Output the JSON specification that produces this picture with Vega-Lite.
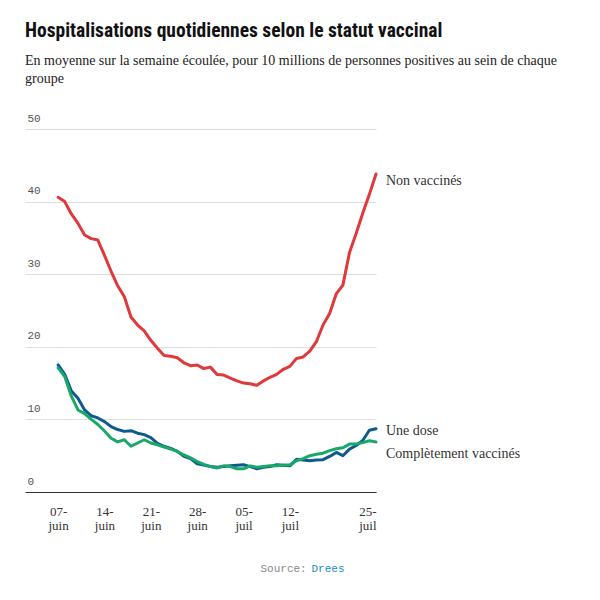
{
  "$schema": "https://vega.github.io/schema/vega-lite/v6.json",
  "width": 351,
  "height": 363,
  "autosize": "none",
  "padding": {"left": 25, "top": 129, "right": 224, "bottom": 108},
  "background": "white",
  "config": {"view": {"stroke": null}, "font": "Liberation Serif"},
  "title": {
    "text": "Hospitalisations quotidiennes selon le statut vaccinal",
    "subtitle": ["En moyenne sur la semaine écoulée, pour 10 millions de personnes positives au sein de chaque", "groupe"],
    "anchor": "start",
    "frame": "group",
    "font": "Roboto Condensed, DejaVu Sans Condensed, Liberation Sans Narrow, Roboto",
    "fontSize": 19.5,
    "fontWeight": "bold",
    "color": "#111111",
    "subtitleFont": "Liberation Serif",
    "subtitleFontSize": 14,
    "subtitleColor": "#222222",
    "subtitlePadding": 13,
    "subtitleLineHeight": 18,
    "offset": 25
  },
  "data": {
    "values": [
      {"date": "2021-06-07", "Non vaccinés": 40.6, "Une dose": 17.5, "Complètement vaccinés": 17.1},
      {"date": "2021-06-08", "Non vaccinés": 40.0, "Une dose": 16.2, "Complètement vaccinés": 15.9},
      {"date": "2021-06-09", "Non vaccinés": 38.3, "Une dose": 13.9, "Complètement vaccinés": 13.2},
      {"date": "2021-06-10", "Non vaccinés": 37.0, "Une dose": 12.9, "Complètement vaccinés": 11.3},
      {"date": "2021-06-11", "Non vaccinés": 35.4, "Une dose": 11.3, "Complètement vaccinés": 10.8},
      {"date": "2021-06-12", "Non vaccinés": 34.9, "Une dose": 10.5, "Complètement vaccinés": 10.0},
      {"date": "2021-06-13", "Non vaccinés": 34.7, "Une dose": 10.2, "Complètement vaccinés": 9.3},
      {"date": "2021-06-14", "Non vaccinés": 32.6, "Une dose": 9.7, "Complètement vaccinés": 8.4},
      {"date": "2021-06-15", "Non vaccinés": 30.4, "Une dose": 9.0, "Complètement vaccinés": 7.4},
      {"date": "2021-06-16", "Non vaccinés": 28.4, "Une dose": 8.6, "Complètement vaccinés": 6.9},
      {"date": "2021-06-17", "Non vaccinés": 26.9, "Une dose": 8.35, "Complètement vaccinés": 7.2},
      {"date": "2021-06-18", "Non vaccinés": 24.1, "Une dose": 8.45, "Complètement vaccinés": 6.3},
      {"date": "2021-06-19", "Non vaccinés": 23.0, "Une dose": 8.1, "Complètement vaccinés": 6.75},
      {"date": "2021-06-20", "Non vaccinés": 22.2, "Une dose": 7.9, "Complètement vaccinés": 7.2},
      {"date": "2021-06-21", "Non vaccinés": 20.9, "Une dose": 7.5, "Complètement vaccinés": 6.75},
      {"date": "2021-06-22", "Non vaccinés": 19.8, "Une dose": 6.7, "Complètement vaccinés": 6.5},
      {"date": "2021-06-23", "Non vaccinés": 18.8, "Une dose": 6.3, "Complètement vaccinés": 6.2},
      {"date": "2021-06-24", "Non vaccinés": 18.7, "Une dose": 6.0, "Complètement vaccinés": 5.9},
      {"date": "2021-06-25", "Non vaccinés": 18.5, "Une dose": 5.6, "Complètement vaccinés": 5.6},
      {"date": "2021-06-26", "Non vaccinés": 17.8, "Une dose": 4.9, "Complètement vaccinés": 5.1},
      {"date": "2021-06-27", "Non vaccinés": 17.4, "Une dose": 4.6, "Complètement vaccinés": 4.7},
      {"date": "2021-06-28", "Non vaccinés": 17.5, "Une dose": 3.9, "Complètement vaccinés": 4.2},
      {"date": "2021-06-29", "Non vaccinés": 17.0, "Une dose": 3.7, "Complètement vaccinés": 3.8},
      {"date": "2021-06-30", "Non vaccinés": 17.2, "Une dose": 3.5, "Complètement vaccinés": 3.5},
      {"date": "2021-07-01", "Non vaccinés": 16.2, "Une dose": 3.4, "Complètement vaccinés": 3.3},
      {"date": "2021-07-02", "Non vaccinés": 16.1, "Une dose": 3.5, "Complètement vaccinés": 3.6},
      {"date": "2021-07-03", "Non vaccinés": 15.7, "Une dose": 3.6, "Complètement vaccinés": 3.5},
      {"date": "2021-07-04", "Non vaccinés": 15.3, "Une dose": 3.7, "Complètement vaccinés": 3.2},
      {"date": "2021-07-05", "Non vaccinés": 15.0, "Une dose": 3.75, "Complètement vaccinés": 3.2},
      {"date": "2021-07-06", "Non vaccinés": 14.9, "Une dose": 3.5, "Complètement vaccinés": 3.6},
      {"date": "2021-07-07", "Non vaccinés": 14.7, "Une dose": 3.2, "Complètement vaccinés": 3.4},
      {"date": "2021-07-08", "Non vaccinés": 15.3, "Une dose": 3.4, "Complètement vaccinés": 3.5},
      {"date": "2021-07-09", "Non vaccinés": 15.8, "Une dose": 3.5, "Complètement vaccinés": 3.6},
      {"date": "2021-07-10", "Non vaccinés": 16.2, "Une dose": 3.75, "Complètement vaccinés": 3.6},
      {"date": "2021-07-11", "Non vaccinés": 16.9, "Une dose": 3.7, "Complètement vaccinés": 3.7},
      {"date": "2021-07-12", "Non vaccinés": 17.3, "Une dose": 3.6, "Complètement vaccinés": 3.75},
      {"date": "2021-07-13", "Non vaccinés": 18.4, "Une dose": 4.5, "Complètement vaccinés": 4.3},
      {"date": "2021-07-14", "Non vaccinés": 18.6, "Une dose": 4.4, "Complètement vaccinés": 4.6},
      {"date": "2021-07-15", "Non vaccinés": 19.4, "Une dose": 4.3, "Complètement vaccinés": 5.0},
      {"date": "2021-07-16", "Non vaccinés": 20.7, "Une dose": 4.4, "Complètement vaccinés": 5.2},
      {"date": "2021-07-17", "Non vaccinés": 23.0, "Une dose": 4.45, "Complètement vaccinés": 5.35},
      {"date": "2021-07-18", "Non vaccinés": 24.6, "Une dose": 4.9, "Complètement vaccinés": 5.7},
      {"date": "2021-07-19", "Non vaccinés": 27.3, "Une dose": 5.45, "Complètement vaccinés": 5.95},
      {"date": "2021-07-20", "Non vaccinés": 28.5, "Une dose": 5.0, "Complètement vaccinés": 6.1},
      {"date": "2021-07-21", "Non vaccinés": 33.0, "Une dose": 5.9, "Complètement vaccinés": 6.6},
      {"date": "2021-07-22", "Non vaccinés": 35.6, "Une dose": 6.4, "Complètement vaccinés": 6.6},
      {"date": "2021-07-23", "Non vaccinés": 38.4, "Une dose": 7.1, "Complètement vaccinés": 6.8},
      {"date": "2021-07-24", "Non vaccinés": 41.0, "Une dose": 8.5, "Complètement vaccinés": 7.05},
      {"date": "2021-07-25", "Non vaccinés": 43.8, "Une dose": 8.7, "Complètement vaccinés": 6.9}
    ]
  },
  "transform": [
    {"fold": ["Non vaccinés", "Une dose", "Complètement vaccinés"], "as": ["serie", "value"]}
  ],
  "encoding": {
    "x": {
      "field": "date",
      "type": "temporal",
      "scale": {
        "type": "utc",
        "domain": [
          {"year": 2021, "month": 6, "date": 2, "utc": true},
          {"year": 2021, "month": 7, "date": 25, "utc": true}
        ]
      },
      "axis": {
        "values": [
          {"year": 2021, "month": 6, "date": 7, "utc": true},
          {"year": 2021, "month": 6, "date": 14, "utc": true},
          {"year": 2021, "month": 6, "date": 21, "utc": true},
          {"year": 2021, "month": 6, "date": 28, "utc": true},
          {"year": 2021, "month": 7, "date": 5, "utc": true},
          {"year": 2021, "month": 7, "date": 12, "utc": true},
          {"year": 2021, "month": 7, "date": 25, "utc": true}
        ],
        "labelExpr": "[utcFormat(datum.value, '%d') + '-', utcmonth(datum.value) == 5 ? 'juin' : 'juil']",
        "grid": false,
        "ticks": false,
        "domainColor": "#333333",
        "domainWidth": 1,
        "labelFont": "Liberation Serif",
        "labelFontSize": 13,
        "labelColor": "#333333",
        "labelPadding": 13,
        "labelLineHeight": 14,
        "title": "Source:",
        "titleFont": "Liberation Mono",
        "titleFontSize": 11,
        "titleFontWeight": "normal",
        "titleColor": "#888888",
        "titleAlign": "left",
        "titleBaseline": "alphabetic",
        "titleX": 235,
        "titleY": 79
      }
    },
    "y": {
      "field": "value",
      "type": "quantitative",
      "scale": {"domain": [0, 50]},
      "axis": {
        "values": [0, 10, 20, 30, 40, 50],
        "grid": true,
        "gridColor": "#dddddd",
        "domain": false,
        "ticks": false,
        "labelAlign": "left",
        "labelBaseline": "alphabetic",
        "labelPadding": -2,
        "labelOffset": -8,
        "labelFont": "Liberation Mono",
        "labelFontSize": 11,
        "labelColor": "#555555",
        "title": "Drees",
        "titleFont": "Liberation Mono",
        "titleFontSize": 11,
        "titleFontWeight": "normal",
        "titleColor": "#1a8cc8",
        "titleAngle": 0,
        "titleAlign": "left",
        "titleBaseline": "alphabetic",
        "titleX": 286,
        "titleY": 442
      }
    },
    "color": {
      "field": "serie",
      "type": "nominal",
      "scale": {
        "domain": ["Non vaccinés", "Une dose", "Complètement vaccinés"],
        "range": ["#e0393b", "#0d5a8f", "#1aa86a"]
      },
      "legend": null
    }
  },
  "layer": [
    {"mark": {"type": "line", "strokeWidth": 3, "strokeCap": "round", "strokeJoin": "round"}},
    {
      "transform": [{"filter": "datum.serie == 'Non vaccinés'"}],
      "mark": {"type": "text", "align": "left", "baseline": "middle", "dx": 10, "dy": 7, "font": "Liberation Serif", "fontSize": 14},
      "encoding": {
        "x": {"aggregate": "max", "field": "date", "type": "temporal"},
        "y": {"aggregate": {"argmax": "date"}, "field": "value", "type": "quantitative"},
        "text": {"field": "serie"},
        "color": {"value": "#333333"}
      }
    },
    {
      "transform": [{"filter": "datum.serie == 'Une dose'"}],
      "mark": {"type": "text", "align": "left", "baseline": "middle", "dx": 10, "dy": 2, "font": "Liberation Serif", "fontSize": 14},
      "encoding": {
        "x": {"aggregate": "max", "field": "date", "type": "temporal"},
        "y": {"aggregate": {"argmax": "date"}, "field": "value", "type": "quantitative"},
        "text": {"field": "serie"},
        "color": {"value": "#333333"}
      }
    },
    {
      "transform": [{"filter": "datum.serie == 'Complètement vaccinés'"}],
      "mark": {"type": "text", "align": "left", "baseline": "middle", "dx": 10, "dy": 12, "font": "Liberation Serif", "fontSize": 14},
      "encoding": {
        "x": {"aggregate": "max", "field": "date", "type": "temporal"},
        "y": {"aggregate": {"argmax": "date"}, "field": "value", "type": "quantitative"},
        "text": {"field": "serie"},
        "color": {"value": "#333333"}
      }
    }
  ]
}
